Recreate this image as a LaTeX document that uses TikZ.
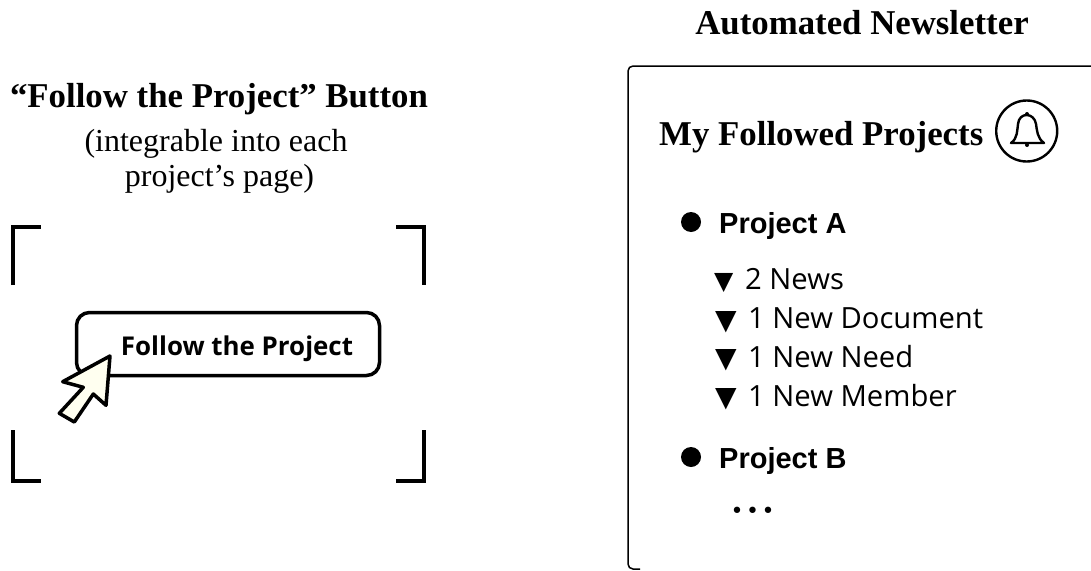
\documentclass[tikz,border=0pt]{standalone}
\usepackage{fontspec}
\setmainfont{Liberation Serif}
\newfontfamily\plainsans{Liberation Sans}
\newfontfamily\listsans{Open Sans}
\newfontfamily\btnsans{Open Sans}
\newfontfamily\symfont{DejaVu Sans}
\tikzset{
  heading/.style={anchor=base,font=\fontsize{34.8}{40}\selectfont\bfseries,inner sep=0pt},
  subheading/.style={anchor=base,font=\fontsize{32}{38}\selectfont,inner sep=0pt},
  project/.style={anchor=base west,font=\fontsize{29}{34}\selectfont\plainsans\bfseries,inner sep=0pt},
  newsitem/.style={anchor=base west,font=\fontsize{29.2}{34}\selectfont\listsans,inner sep=0pt},
  marker/.style={anchor=base west,font=\fontsize{28}{30}\selectfont\symfont,inner sep=0pt},
  bullet/.style={circle,fill=black,minimum size=20pt,inner sep=0pt},
  corner/.style={line width=3.5pt},
}
\begin{document}
\begin{tikzpicture}[x=1pt,y=-1pt]
                \useasboundingbox (0,0) rectangle (1091,570);

                \path (862,34) node[heading] (newsletter) {Automated Newsletter};
                \path (219,107) node[heading] (follow) {“Follow the Project” Button};
                \path (216,151) node[subheading] (integrable) {(integrable into each};
                \path (219.5,186) node[subheading] (page) {project’s page)};

                \draw[corner] (13,285) -- (13,227) -- (41,227);
                \draw[corner] (396,227) -- (424,227) -- (424,285);
                \draw[corner] (13,430) -- (13,481) -- (41,481);
                \draw[corner] (396,481) -- (424,481) -- (424,430);

                \path (228,344) node[draw,line width=3.5pt,rounded corners=13pt,minimum width=303pt,minimum height=63pt] (button) {};
                \path (237,355) node[anchor=base,font=\fontsize{25.9}{30}\selectfont\btnsans\bfseries,inner sep=0pt] (buttontext) {Follow the Project};
                \draw[line width=3.5pt,line join=round,fill={rgb,255:red,255;green,255;blue,240}] (110,356) -- (62.7,381.7) -- (83.3,387.3) -- (59.3,413.3) -- (74.3,422) -- (93.3,394) -- (106,405.3) -- cycle;

                \draw[line width=1.5pt,rounded corners=5pt] (1091,66) -- (628,66) -- (628,569) -- (640,569);

                \path (659,145) node[anchor=base west,font=\fontsize{34.8}{40}\selectfont\bfseries,inner sep=0pt] (followed) {My Followed Projects};
                \path (1026.7,131) node[circle,draw,line width=2.4pt,minimum size=61pt,inner sep=0pt] (bellring) {};
                \draw[line width=2.4pt,line join=round] (1011,143) .. controls (1018,138) and (1017,130) .. (1018,124) .. controls (1019,112) and (1034,112) .. (1036,124) .. controls (1037,130) and (1037,138) .. (1044,143) -- cycle;
                \fill (1027,114) circle (2pt) (1027,145) circle (2pt);

                \path (691,222) node[bullet] (bulleta) {};
                \path (719,233) node[project] (projecta) {Project A};
                \path (691,457) node[bullet] (bulletb) {};
                \path (719,468) node[project] (projectb) {Project B};

                \path (714,289) node[marker,font=\fontsize{25}{30}\selectfont\symfont] (markernews) {▼};
                \path (715,329) node[marker] (markerdoc) {▼};
                \path (715,367) node[marker] (markerneed) {▼};
                \path (715,406) node[marker] (markermember) {▼};

                \path (745,289) node[newsitem] (news) {2 News};
                \path (748,328) node[newsitem] (document) {1 New Document};
                \path (748,367) node[newsitem] (need) {1 New Need};
                \path (748,406) node[newsitem] (member) {1 New Member};

                \path (752.5,513) node[font=\fontsize{22}{26}\selectfont\symfont,inner sep=0pt] (dots) {•\kern2.5pt•\kern2.5pt•};
\end{tikzpicture}
\end{document}
